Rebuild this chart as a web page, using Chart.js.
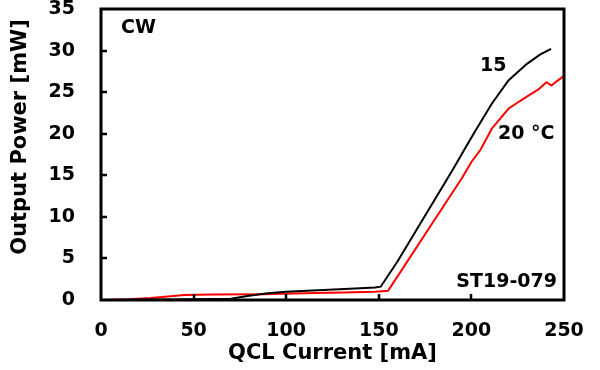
<!DOCTYPE html>
<html>
<head>
<meta charset="utf-8">
<script src="https://cdn.jsdelivr.net/npm/chart.js@4.4.1/dist/chart.umd.min.js"></script>
<style>
  html,body{margin:0;padding:0;background:#fff;}
  #wrap{width:600px;height:370px;}
</style>
</head>
<body>
<div id="wrap"><canvas id="chartQCL" width="600" height="370"></canvas></div>
<script>
// datos
const current15 = [0, 40, 70, 80, 90, 100, 120, 140, 148, 151, 160, 170, 180, 190, 196, 202, 211, 220, 230, 237, 243];
const power15   = [0, 0.05, 0.15, 0.5, 0.8, 1.0, 1.2, 1.4, 1.5, 1.6, 4.6, 8.3, 12.0, 15.7, 18.0, 20.3, 23.6, 26.4, 28.4, 29.5, 30.2];
const current20 = [0, 15, 27, 45, 60, 87, 110, 130, 148, 155, 165, 175, 185, 195, 200, 205, 211, 220, 226, 231, 236, 240.5, 243.3, 246, 249.7];
const power20   = [0, 0.1, 0.25, 0.6, 0.65, 0.7, 0.8, 0.9, 1.0, 1.1, 4.5, 7.9, 11.3, 14.7, 16.6, 18.1, 20.6, 23.0, 23.9, 24.6, 25.3, 26.2, 25.8, 26.3, 26.9];
const xTicks = [0, 50, 100, 150, 200, 250];
const yTicks = [0, 5, 10, 15, 20, 25, 30, 35];

const FONT = "'DejaVu Sans', Verdana, sans-serif";

function toPts(xs, ys){ return xs.map((x,i)=>({x:x, y:ys[i]})); }

// marco y marcas hacia adentro + textos
const framePlugin = {
  id:'frame',
  afterDatasetsDraw(chart){
    const {ctx, chartArea:a, scales:{x, y}} = chart;
    ctx.save();
    ctx.strokeStyle = '#000';
    ctx.lineWidth = 3;
    ctx.strokeRect(a.left, a.top, a.right - a.left, a.bottom - a.top);
    ctx.lineWidth = 2.5;
    ctx.beginPath();
    yTicks.slice(1, -1).forEach(v=>{
      const py = Math.round(y.getPixelForValue(v));
      ctx.moveTo(a.left, py); ctx.lineTo(a.left + 6, py);
    });
    xTicks.slice(1, -1).forEach(v=>{
      const px = Math.round(x.getPixelForValue(v));
      ctx.moveTo(px, a.bottom); ctx.lineTo(px, a.bottom - 6);
    });
    ctx.stroke();

    ctx.fillStyle = '#000';
    ctx.font = 'bold 19px ' + FONT;
    ctx.textBaseline = 'middle';
    ctx.textAlign = 'left';
    ctx.fillText('CW', 121, 28);
    ctx.fillText('15', 480, 66);
    ctx.fillText('20 °C', 498, 134);
    ctx.textAlign = 'right';
    ctx.fillText('ST19-079', 557, 282);

    // titulo eje Y
    ctx.font = 'bold 21px ' + FONT;
    ctx.textAlign = 'center';
    ctx.translate(21, 137);
    ctx.rotate(-Math.PI / 2);
    ctx.fillText('Output Power [mW]', 0, 0);
    ctx.restore();
  }
};

new Chart(document.getElementById('chartQCL'), {
  type:'scatter',
  data:{
    datasets:[
      {label:'15', data:toPts(current15, power15), showLine:true, borderColor:'#000000', borderWidth:2, pointRadius:0, tension:0},
      {label:'20 °C', data:toPts(current20, power20), showLine:true, borderColor:'#ff0000', borderWidth:2, pointRadius:0, tension:0}
    ]
  },
  plugins:[framePlugin],
  options:{
    responsive:false,
    animation:false,
    layout:{padding:{top:9, right:36, left:0, bottom:0}},
    plugins:{legend:{display:false}, tooltip:{enabled:false}},
    scales:{
      x:{
        type:'linear', min:0, max:250,
        afterBuildTicks: s => { s.ticks = xTicks.map(v=>({value:v})); },
        afterFit: s => { s.height = 70; s.paddingLeft = 0; s.paddingRight = 0; },
        grid:{display:false}, border:{display:false},
        ticks:{color:'#000', padding:12, maxRotation:0, font:{family:FONT, size:19, weight:'bold'}},
        title:{display:true, text:'QCL Current [mA]', color:'#000', padding:{top:9}, font:{family:FONT, size:21, weight:'bold'}}
      },
      y:{
        type:'linear', min:0, max:35,
        afterBuildTicks: s => { s.ticks = yTicks.map(v=>({value:v})); },
        afterFit: s => { s.width = 101; s.paddingTop = 0; s.paddingBottom = 0; },
        grid:{display:false}, border:{display:false},
        ticks:{color:'#000', padding:18, font:{family:FONT, size:19, weight:'bold'}}
      }
    }
  }
});
</script>
</body>
</html>
